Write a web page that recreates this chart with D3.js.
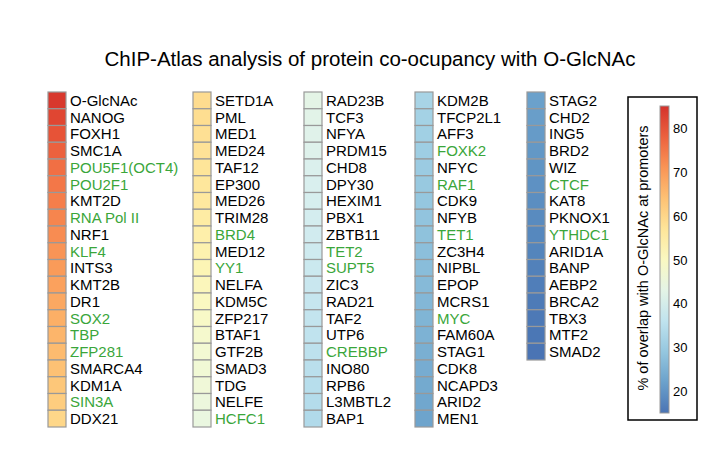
<!DOCTYPE html><html><head><meta charset="utf-8"><script src="https://cdn.jsdelivr.net/npm/d3@7"></script>
<style>body{margin:0;background:#fff}text{font-family:"Liberation Sans",Arial,sans-serif}</style></head><body><svg id="c" width="722" height="451"></svg>
<script>
const proteins = ["O-GlcNAc","NANOG","FOXH1","SMC1A","POU5F1(OCT4)","POU2F1","KMT2D","RNA Pol II","NRF1","KLF4","INTS3","KMT2B","DR1","SOX2","TBP","ZFP281","SMARCA4","KDM1A","SIN3A","DDX21",
"SETD1A","PML","MED1","MED24","TAF12","EP300","MED26","TRIM28","BRD4","MED12","YY1","NELFA","KDM5C","ZFP217","BTAF1","GTF2B","SMAD3","TDG","NELFE","HCFC1",
"RAD23B","TCF3","NFYA","PRDM15","CHD8","DPY30","HEXIM1","PBX1","ZBTB11","TET2","SUPT5","ZIC3","RAD21","TAF2","UTP6","CREBBP","INO80","RPB6","L3MBTL2","BAP1",
"KDM2B","TFCP2L1","AFF3","FOXK2","NFYC","RAF1","CDK9","NFYB","TET1","ZC3H4","NIPBL","EPOP","MCRS1","MYC","FAM60A","STAG1","CDK8","NCAPD3","ARID2","MEN1",
"STAG2","CHD2","ING5","BRD2","WIZ","CTCF","KAT8","PKNOX1","YTHDC1","ARID1A","BANP","AEBP2","BRCA2","TBX3","MTF2","SMAD2"];
const overlap = [84,82,80,78,76,75,74,73,72,71,70,69,68,67,66,65,64,63,62,60,
59,58.5,58,57.5,57,56.5,56,55,54,53,52,51,50,49,48,47,46.5,46,45,44.5,
43,42.5,42,41.5,41,40.5,40,39.5,39,38.5,38,37.5,37,36.5,36,35.5,35,34.5,34,33.5,
32,31.5,31,30.5,30,29.5,29,28.5,28,27.5,27,26.5,26,25.5,25,24.5,24,23.5,23,22.5,
22,21.5,21,20.5,20,19.5,19,18.5,18,17.5,17,16.5,16,15.8,15.4,15];
const columnSizes = [20,20,20,20,16];
const greenLabels = ["POU5F1(OCT4)","POU2F1","RNA Pol II","KLF4","SOX2","TBP","ZFP281","SIN3A","BRD4","YY1","HCFC1","TET2","SUPT5","CREBBP","FOXK2","RAF1","TET1","MYC","CTCF","YTHDC1"];
const legendTicks = [20,30,40,50,60,70,80];

const svg = d3.select("#c");
svg.append("text").attr("x",370).attr("y",66).attr("text-anchor","middle").attr("font-size",20.5).text("ChIP-Atlas analysis of protein co-ocupancy with O-GlcNAc");
const color = d3.scaleSequential(t=>d3.interpolateRdYlBu(0.9-0.8*t)).domain([15,85]);
const colX = [48,193,304,415,527];
const rowH = 16.75;
const y0 = 92;
let idx=0;
columnSizes.forEach((n,c)=>{
  for(let r=0;r<n;r++,idx++){
    const g=svg.append("g");
    g.append("rect").attr("x",colX[c]).attr("y",y0+r*rowH).attr("width",18).attr("height",rowH)
     .attr("fill",color(overlap[idx])).attr("stroke","#999").attr("stroke-width",1.2);
    g.append("text").attr("x",colX[c]+22).attr("y",y0+r*rowH+rowH/2+5.5).attr("font-size",15)
     .attr("fill",greenLabels.includes(proteins[idx])?"#3aa63a":"#000").text(proteins[idx]);
  }
});
svg.append("rect").attr("x",628).attr("y",97).attr("width",69).attr("height",323).attr("fill","none").attr("stroke","#000").attr("stroke-width",1.5);
const defs=svg.append("defs");
const lg=defs.append("linearGradient").attr("id","lg").attr("x1",0).attr("x2",0).attr("y1",1).attr("y2",0);
d3.range(0,1.01,0.1).forEach(t=>lg.append("stop").attr("offset",t).attr("stop-color",color(15+70*t)));
const ly=d3.scaleLinear().domain([15,85]).range([413,106]);
svg.append("rect").attr("x",660).attr("y",106).attr("width",9).attr("height",307).attr("fill","url(#lg)").attr("stroke","#999").attr("stroke-width",1);
legendTicks.forEach(v=>svg.append("text").attr("x",673).attr("y",ly(v)+5).attr("font-size",13).text(v));
svg.append("text").attr("transform","translate(648,258) rotate(-90)").attr("text-anchor","middle").attr("font-size",14.5).text("% of overlap with O-GlcNAc at promoters");
</script></body></html>
